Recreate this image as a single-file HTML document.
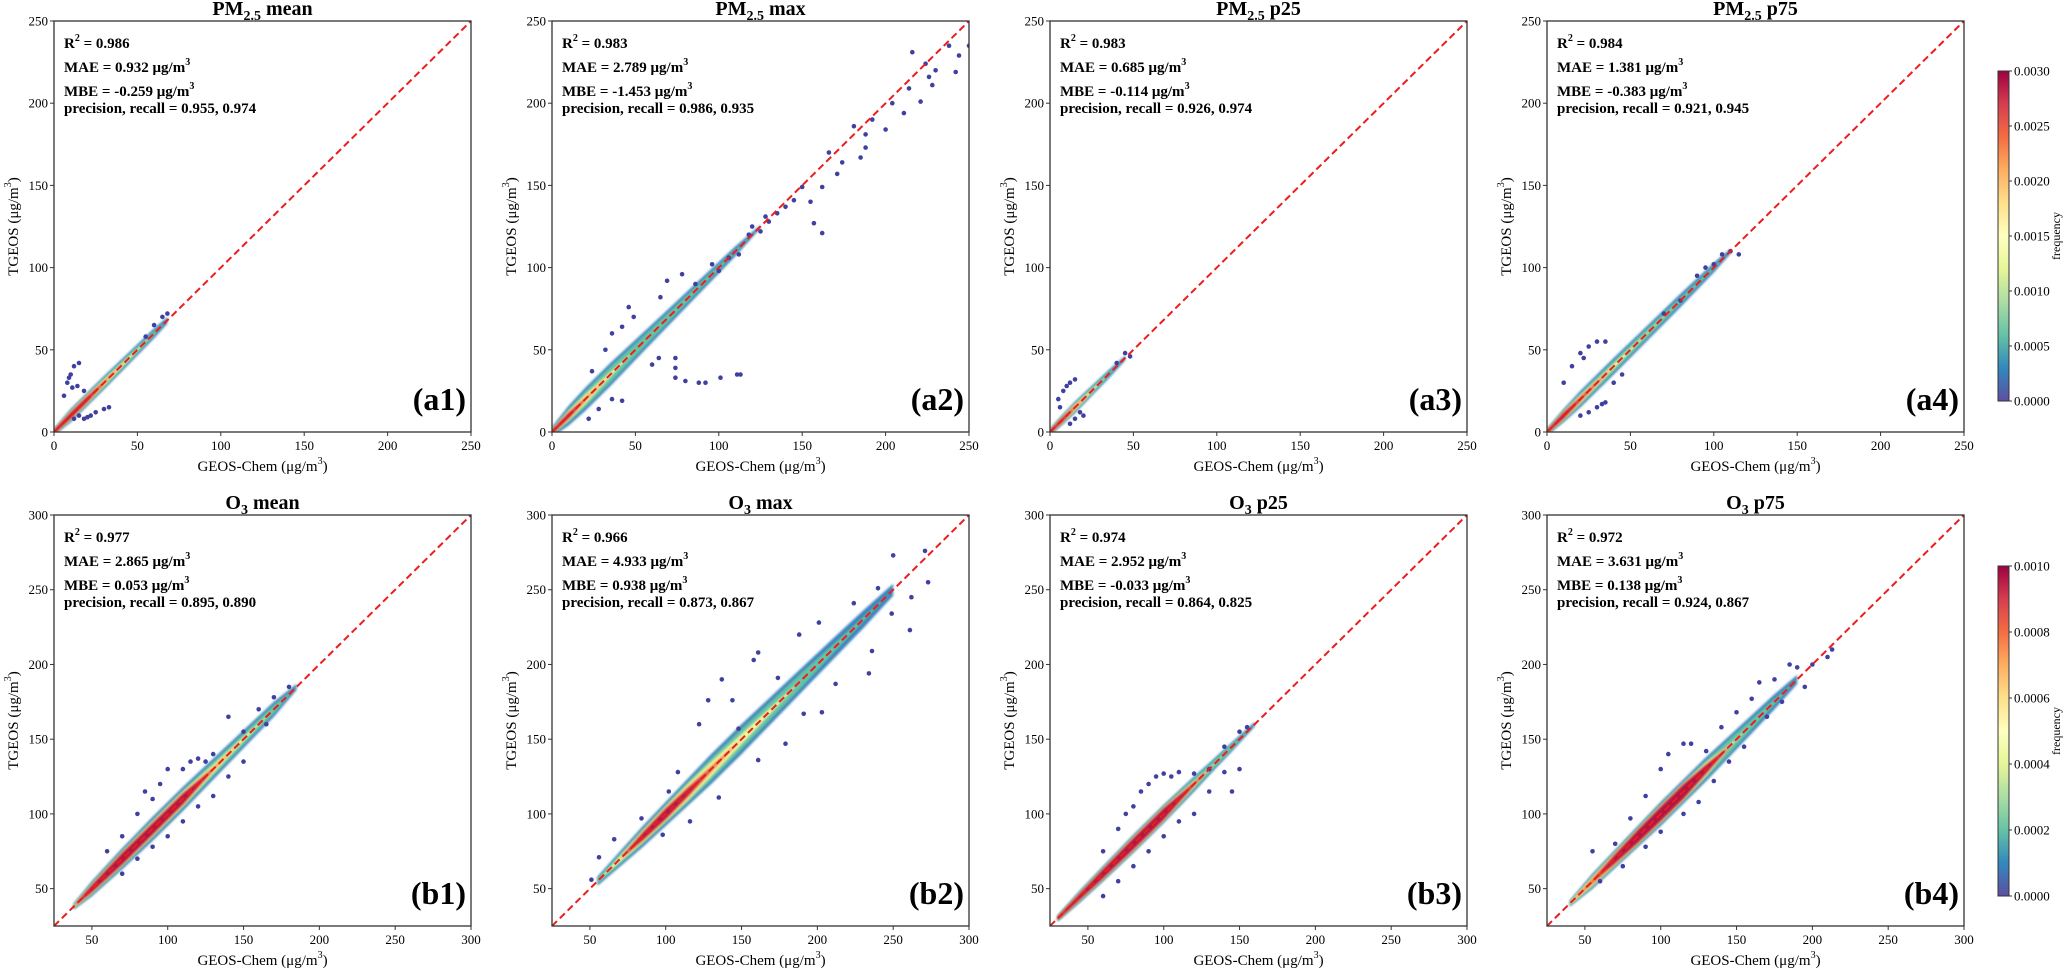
<!DOCTYPE html>
<html><head><meta charset="utf-8"><style>
html,body{margin:0;padding:0;background:#fff;}
svg{display:block;font-family:"Liberation Serif",serif;}
</style></head><body>
<svg id="fig" width="2066" height="972" viewBox="0 0 2066 972">
<defs>
<linearGradient id="spec" x1="0" y1="1" x2="0" y2="0">
<stop offset="0" stop-color="#5e4fa2"/><stop offset="0.1" stop-color="#3288bd"/><stop offset="0.2" stop-color="#66c2a5"/><stop offset="0.3" stop-color="#abdda4"/><stop offset="0.4" stop-color="#e6f598"/><stop offset="0.5" stop-color="#ffffbf"/><stop offset="0.6" stop-color="#fee08b"/><stop offset="0.7" stop-color="#fdae61"/><stop offset="0.8" stop-color="#f46d43"/><stop offset="0.9" stop-color="#d53e4f"/><stop offset="1" stop-color="#9e0142"/>
</linearGradient>
<filter id="soft" x="-5%" y="-5%" width="110%" height="110%"><feGaussianBlur stdDeviation="1"/></filter>
</defs>
</svg>
<script>
// ---- panel meta data ----
const titlesMain = ["PM","PM","PM","PM","O","O","O","O"];
const titlesSub = ["2.5","2.5","2.5","2.5","3","3","3","3"];
const titlesStat = [" mean"," max"," p25"," p75"," mean"," max"," p25"," p75"];
const panelTags = ["(a1)","(a2)","(a3)","(a4)","(b1)","(b2)","(b3)","(b4)"];
const r2Vals = ["0.986","0.983","0.983","0.984","0.977","0.966","0.974","0.972"];
const maeVals = ["0.932","2.789","0.685","1.381","2.865","4.933","2.952","3.631"];
const mbeVals = ["-0.259","-1.453","-0.114","-0.383","0.053","0.938","-0.033","0.138"];
const precVals = ["0.955","0.986","0.926","0.921","0.895","0.873","0.864","0.924"];
const recallVals = ["0.974","0.935","0.974","0.945","0.890","0.867","0.825","0.867"];
const pmTicks = [0,50,100,150,200,250];
const o3Ticks = [50,100,150,200,250,300];
const cbTicksA = ["0.0000","0.0005","0.0010","0.0015","0.0020","0.0025","0.0030"];
const cbTicksB = ["0.0000","0.0002","0.0004","0.0006","0.0008","0.0010"];

// ---- density band data (node positions along 1:1 line, half-spread per density level) ----
const a1X = [0,10,20,30,45,60,68];
const a1W = [[2,4,4,4,3.5,3,2],[1.5,3,3,3,2.5,1.5,0],[1.5,2.5,2.5,2,1,0,0],[1.2,2,2,1,0,0,0],[1,1.5,1.2,0,0,0,0]];
const a2X = [0,10,20,35,50,70,90,110,125];
const a2W = [[3,6,7,7,6,5,4,3,1],[2,4,5,5,4,3,2,1,0],[1.5,3,3,1.5,0,0,0,0,0],[1.2,2,1,0,0,0,0,0,0],[1,1.2,0,0,0,0,0,0,0]];
const a3X = [0,8,15,25,35,45];
const a3W = [[2,3,3.5,3,2.5,1.5],[1.5,2.5,2.5,2,1.5,0],[1.2,2,2,1,0,0],[1,1.5,1,0,0,0],[0.8,1,0,0,0,0]];
const a4X = [0,10,20,40,60,80,100,110];
const a4W = [[2,4,5,5,4.5,4,3,1.5],[1.5,3,3.5,3.5,3,2,1,0],[1.2,2.5,2.5,1.5,0.5,0,0,0],[1,2,1.5,0,0,0,0,0],[0.8,1.5,0.5,0,0,0,0,0]];
const b1X = [38,50,70,90,110,130,150,170,185];
const b1W = [[2,5,7,8,8,7,6,5,2],[1.5,4,5.5,6,6,5,4,3,0],[1,3,4.5,5,5,3,1.5,0,0],[0,2.5,4,4,4,1,0,0,0],[0,2,3.5,3.5,3.2,0,0,0,0]];
const b2X = [55,70,85,100,115,130,150,170,190,210,230,250];
const b2W = [[3,5,7,8,9,10,10,9,8,7,6,4],[2,3.5,5,6,7,7.5,7,6,5,3,1.5,0],[0,2,4,5,5.5,5,3.5,2,0,0,0,0],[0,0,3,4,3.5,2,0,0,0,0,0,0],[0,0,2,3,2,0,0,0,0,0,0,0]];
const b3X = [30,45,60,80,100,120,130,145,160];
const b3W = [[2,4,5,6,6,5,4,3,1.5],[1.5,3,4,5,5,4,3,2,0],[1,2.5,3.5,4.5,4.5,2,0.5,0,0],[1,2,3,4,4,1,0,0,0],[0.8,1.8,2.8,3.5,3.5,0.5,0,0,0]];
const b4X = [40,55,70,85,100,115,130,145,160,175,190];
const b4W = [[2,5,6,7,8,8,8,7,6,5,3],[1.5,4,5,6,6.5,6.5,6,5,3.5,2,0],[1,3,4,5,5.5,5.5,4.5,1,0,0,0],[0,2,3.5,4.5,5,5,3,0,0,0,0],[0,0,2.5,4,4.5,4.5,2.5,0,0,0,0]];

// ---- outlier points ----
const a1PtsX = [8,10,12,15,14,18,6,15,18,20,25,30,33,12,22,60,65,68,55,9,11];
const a1PtsY = [30,35,40,42,28,25,22,10,8,9,12,14,15,8,10,65,70,72,58,33,27];
const a2PtsX = [216,238,244,242,228,221,211,200,185,171,155,157,162,162,140,181,188,192,204,214,226,166,174,150,128,120,112,96,74,74,74,80,88,92,101,111,113,69,78,65,46,49,42,36,32,24,42,36,22,28,60,64,86,100,188,224,230,250,130,135,145,118,125,106];
const a2PtsY = [231,235,229,219,211,201,194,184,167,157,140,127,121,149,137,186,181,190,200,209,216,170,164,149,131,125,108,102,45,39,33,31,30,30,33,35,35,92,96,82,76,70,64,60,50,37,19,20,8,14,41,45,90,98,173,224,220,235,128,133,141,120,122,106];
const a3PtsX = [5,8,10,12,15,6,12,15,20,18,40,45,48];
const a3PtsY = [20,25,28,30,32,15,5,8,10,12,42,48,46];
const a4PtsX = [10,15,20,25,30,22,35,20,25,30,35,33,40,45,105,110,115,100,95,90,80,70];
const a4PtsY = [30,40,48,52,55,45,55,10,12,15,18,17,30,35,108,110,108,102,100,95,80,72];
const b1PtsX = [60,70,80,85,90,95,100,110,115,120,125,130,140,150,160,170,180,70,80,90,100,110,120,130,140,150,165];
const b1PtsY = [75,85,100,115,110,120,130,130,135,137,135,140,165,155,170,178,185,60,70,78,85,95,105,112,125,135,160];
const b2PtsX = [271,250,273,261,234,236,262,240,224,201,188,161,158,137,128,122,108,102,84,66,56,51,116,135,161,179,191,212,249,203,148,144,174,98];
const b2PtsY = [276,273,255,223,194,209,245,251,241,228,220,208,203,190,176,160,128,115,97,83,71,56,95,111,136,147,167,187,234,168,157,176,191,86];
const b3PtsX = [70,80,85,90,95,100,105,110,120,130,140,150,155,60,75,70,80,90,100,110,120,130,140,145,150,60];
const b3PtsY = [90,105,115,120,125,127,125,128,127,130,145,155,158,75,100,55,65,75,85,95,100,115,128,115,130,45];
const b4PtsX = [55,70,80,90,100,105,115,120,130,140,150,160,165,175,185,190,200,210,213,60,75,90,100,115,125,135,145,155,170,180,195];
const b4PtsY = [75,80,97,112,130,140,147,147,142,158,168,177,188,190,200,198,200,205,210,55,65,78,88,100,108,122,135,145,165,175,185];

const bandX = [a1X,a2X,a3X,a4X,b1X,b2X,b3X,b4X];
const bandW = [a1W,a2W,a3W,a4W,b1W,b2W,b3W,b4W];
const ptsX = [a1PtsX,a2PtsX,a3PtsX,a4PtsX,b1PtsX,b2PtsX,b3PtsX,b4PtsX];
const ptsY = [a1PtsY,a2PtsY,a3PtsY,a4PtsY,b1PtsY,b2PtsY,b3PtsY,b4PtsY];

// ---- layout (not data) ----
const NS = "http://www.w3.org/2000/svg";
const svg = document.getElementById("fig");
const colLeft = [54,552,1050,1547];
const rowTop = [21,515];
const PW = 417, PH = 411;
const levelColors = ["#3d84bc","#66c2a5","#eef59c","#f57a48","#b01645"];

function mk(tag, attrs, parent){
  const e = document.createElementNS(NS, tag);
  for (const k in attrs) e.setAttribute(k, attrs[k]);
  (parent||svg).appendChild(e);
  return e;
}

for (let p = 0; p < 8; p++) {
  const r = p < 4 ? 0 : 1, c = p % 4;
  const L = colLeft[c], T = rowTop[r];
  const dmin = r === 0 ? 0 : 25, dmax = r === 0 ? 250 : 300;
  const ticks = r === 0 ? pmTicks : o3Ticks;
  const sx = v => L + (v - dmin) / (dmax - dmin) * PW;
  const sy = v => T + PH - (v - dmin) / (dmax - dmin) * PH;

  const g = mk("g", {});
  
  

  const clipId = "clip" + p;
  const cp = mk("clipPath", {id: clipId}, g);
  mk("rect", {x: L, y: T, width: PW, height: PH}, cp);

  const bg = mk("g", {"clip-path": "url(#" + clipId + ")"}, g);
  
  
  const xs = bandX[p], ws = bandW[p];
  for (let li = 0; li < ws.length; li++) {
    const up = [], lo = [];
    for (let i = 0; i < xs.length; i++) {
      up.push(sx(xs[i]).toFixed(1) + "," + sy(xs[i] + ws[li][i]).toFixed(1));
      lo.unshift(sx(xs[i]).toFixed(1) + "," + sy(xs[i] - ws[li][i]).toFixed(1));
    }
    const poly = mk("polygon", {points: up.concat(lo).join(" "), fill: levelColors[li], filter: "url(#soft)"}, bg);
    
    
  }
  const px = ptsX[p], py = ptsY[p];
  for (let i = 0; i < px.length; i++) {
    const d = mk("circle", {cx: sx(px[i]).toFixed(1), cy: sy(py[i]).toFixed(1), r: 2.3, fill: "#4040a0"}, bg);
    
    
  }
  const ln = mk("line", {x1: sx(dmin), y1: sy(dmin), x2: sx(dmax), y2: sy(dmax), stroke: "#ee1c1c", "stroke-width": 2, "stroke-dasharray": "7,4"}, bg);
  
  

  const fr = mk("rect", {x: L, y: T, width: PW, height: PH, fill: "none", stroke: "#333", "stroke-width": 1.3}, g);
  
  

  for (const t of ticks) {
    mk("line", {x1: sx(t), y1: T + PH, x2: sx(t), y2: T + PH + 4, stroke: "#333"}, g);
    const tx = mk("text", {x: sx(t), y: T + PH + 18, "text-anchor": "middle", "font-size": 13}, g);
    tx.textContent = t;
    
    
    mk("line", {x1: L - 4, y1: sy(t), x2: L, y2: sy(t), stroke: "#333"}, g);
    const ty = mk("text", {x: L - 6, y: sy(t) + 4.5, "text-anchor": "end", "font-size": 13}, g);
    ty.textContent = t;
    
    
  }

  const tt = mk("text", {x: L + PW / 2, y: T - 6, "text-anchor": "middle", "font-size": 20, "font-weight": "bold"}, g);
  tt.innerHTML = titlesMain[p] + '<tspan dy="5" font-size="14">' + titlesSub[p] + '</tspan><tspan dy="-5">' + titlesStat[p] + '</tspan>';
  
  

  const st = [
    'R<tspan dy="-7" font-size="10">2</tspan><tspan dy="7"> = ' + r2Vals[p] + '</tspan>',
    'MAE = ' + maeVals[p] + ' μg/m<tspan dy="-7" font-size="10">3</tspan>',
    'MBE = ' + mbeVals[p] + ' μg/m<tspan dy="-7" font-size="10">3</tspan>',
    'precision, recall = ' + precVals[p] + ', ' + recallVals[p]
  ];
  const sOff = [27, 51, 75, 92];
  for (let i = 0; i < 4; i++) {
    const s = mk("text", {x: L + 10, y: T + sOff[i], "font-size": 15, "font-weight": "bold"}, g);
    s.innerHTML = st[i];
    
    
  }

  const tg = mk("text", {x: L + PW - 5, y: T + PH - 22, "text-anchor": "end", "font-size": 32, "font-weight": "bold"}, g);
  tg.textContent = panelTags[p];
  
  

  const xl = mk("text", {x: L + PW / 2, y: T + PH + 39, "text-anchor": "middle", "font-size": 15}, g);
  xl.innerHTML = 'GEOS-Chem (μg/m<tspan dy="-7" font-size="10">3</tspan><tspan dy="7">)</tspan>';
  
  
  const yc = T + PH / 2, xcx = L - 36;
  const yl = mk("text", {x: xcx, y: yc, "text-anchor": "middle", "font-size": 15, transform: "rotate(-90 " + xcx + " " + yc + ")"}, g);
  yl.innerHTML = 'TGEOS (μg/m<tspan dy="-7" font-size="10">3</tspan><tspan dy="7">)</tspan>';
  
  
}

for (let r = 0; r < 2; r++) {
  const labs = r === 0 ? cbTicksA : cbTicksB;
  const top = r === 0 ? 71 : 566, h = 330, x0 = 1998, w = 11;
  const cg = mk("g", {});
  
  
  mk("rect", {x: x0, y: top, width: w, height: h, fill: "url(#spec)", stroke: "#333", "stroke-width": 1}, cg);
  for (let i = 0; i < labs.length; i++) {
    const y = top + h - i * h / (labs.length - 1);
    mk("line", {x1: x0 + w, y1: y, x2: x0 + w + 3, y2: y, stroke: "#333"}, cg);
    const t = mk("text", {x: x0 + w + 5, y: y + 4.5, "font-size": 13}, cg);
    t.textContent = labs[i];
    
    
  }
  const cx = 2060, cy = top + h / 2;
  const fl = mk("text", {x: cx, y: cy, "text-anchor": "middle", "font-size": 12, transform: "rotate(-90 " + cx + " " + cy + ")"}, cg);
  fl.textContent = "frequency";
  
  
}
</script>
</body></html>
